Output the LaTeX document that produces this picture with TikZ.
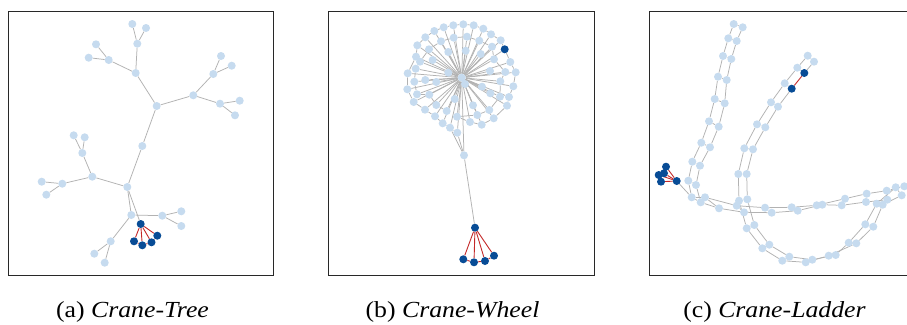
\documentclass[tikz,border=0pt]{standalone}
\usepackage{fontspec}
\usepackage{graphicx}
\setmainfont{Liberation Serif}
\usetikzlibrary{backgrounds}
\definecolor{lblue}{RGB}{198,219,239}
\definecolor{dblue}{RGB}{8,76,150}
\definecolor{egray}{RGB}{178,178,178}
\definecolor{ered}{RGB}{196,40,40}
\definecolor{framec}{RGB}{40,40,40}
\begin{document}
\begin{tikzpicture}[x=1pt,y=-1pt,
  lnode/.style={circle,fill=lblue,inner sep=0pt,minimum size=8pt},
  dnode/.style={circle,fill=dblue,inner sep=0pt,minimum size=8pt},
  gedge/.style={draw=egray,line width=0.75pt},
  redge/.style={draw=ered,line width=0.9pt},
  panel/.style={draw=framec,line width=0.9pt},
  captext/.style={anchor=base,font=\fontsize{23}{27}\selectfont,inner sep=0pt}]
\useasboundingbox (0,0) rectangle (907,324);
\clip (0,0) rectangle (907,324);

% panels
\draw[panel] (8.3,11) rectangle (273,275);
\draw[panel] (328.3,11) rectangle (594,275);
\draw[panel] (649,11) rectangle (920,275);

% ---------------- (a) Crane-Tree ----------------
\foreach \n/\x/\y in {a1/132.3/24, a2/146/28, a3/137.3/43.7, a4/96/44.3, a5/88.7/57.7, a6/108.7/60, a7/135.7/73,
  b1/221/56, b2/231.7/65.7, b3/213.3/74, b4/193.3/95.3, b5/220/103.7, b6/239.7/100.7, b7/235/115.3,
  c/156.7/106, d/142.3/146, e/127.3/187,
  f1/73.7/135.3, f2/84.7/137.3, f3/82.3/153, f4/92.3/176.7, f5/62.3/183.7, f6/41.7/181.7, f7/46.3/194.7,
  g/131.3/215, h1/162.3/215.7, h2/181.3/211.3, h3/181.3/226,
  i1/110.7/241.3, i2/94.3/253.7, i3/104.7/262.7}
  \node[lnode] (T\n) at (\x,\y) {};
\foreach \n/\x/\y in {k0/140.7/224, k1/134/241.3, k2/142.3/245.3, k3/151.5/242.3, k4/157.3/235.7}
  \node[dnode] (T\n) at (\x,\y) {};

% ---------------- (b) Crane-Wheel ----------------
\node[lnode] (Wh) at (461.7,77.7) {};
\node[lnode] (Wh2) at (465,84) {};
\foreach \x/\y/\s [count=\i] in {457.3/132.7/lnode, 450/127.7/lnode, 442.7/123.3/lnode, 435/116.3/lnode,
  425/109.7/lnode, 413.7/102/lnode, 407.3/89.3/lnode, 407.7/73.3/lnode, 416/56.7/lnode, 417.3/45.3/lnode,
  425.3/37.3/lnode, 434.3/31/lnode, 443.7/27.3/lnode, 453.3/25.3/lnode, 463.3/24.3/lnode, 473.7/25.3/lnode,
  483.3/28.7/lnode, 491/34.3/lnode, 500.7/40.3/lnode, 504.7/49.3/dnode, 510.3/62/lnode, 515.7/72.3/lnode,
  513.3/86.3/lnode, 509/97/lnode, 507/105.7/lnode, 493.7/118.3/lnode, 481.7/124.7/lnode, 470/122/lnode}
  \node[\s] (W\i) at (\x,\y) {};
\foreach \x/\y [count=\i] in {446.7/111, 436.3/105, 429.3/94.7, 417/94.3, 414.3/81.7, 415.7/68.7, 420/61.7,
  429/49.3, 441/41.3, 453.7/37.7, 467/36.7, 479.3/40.7, 492/46.7, 494/59.3, 505.3/72, 500.3/81.3,
  500/96.7, 489.3/110, 477.3/115, 457/116.7}
  \node[lnode] (V\i) at (\x,\y) {};
\foreach \x/\y [count=\i] in {425.3/80, 436.3/82, 432.7/60, 448.3/52, 465.7/50.7, 480.7/54, 490/71,
  482/86.7, 490.3/93.3, 473/105.3, 454.7/99, 448.3/72.7}
  \node[lnode] (U\i) at (\x,\y) {};
\node[lnode] (Wc) at (464,155.3) {};
\foreach \n/\x/\y in {k0/475/227.7, k1/463.3/259.3, k2/474/262.3, k3/485/261, k4/494/255.7}
  \node[dnode] (W\n) at (\x,\y) {};

% ---------------- (c) Crane-Ladder ----------------
\foreach \x/\y [count=\i] in {733.7/24, 728.3/38.3, 723/56, 718/76.7, 714.7/99, 709/121.3, 701.3/142.7,
  692.3/161.7, 688.3/180.7, 691.7/197.3}
  \node[lnode] (LA\i) at (\x,\y) {};
\foreach \x/\y [count=\i] in {742.7/27.3, 736.7/41, 731.3/59, 726.7/80, 724.7/103.3, 718.7/126.7, 710/147.3,
  700/165.7, 696/185, 700.7/202.3}
  \node[lnode] (LB\i) at (\x,\y) {};
\foreach \x/\y [count=\i] in {705/197.3, 736.7/205.7, 765/207.7, 791.7/207.3, 816.7/205.3, 845/198.7,
  866.7/193.7, 886.7/190.7}
  \node[lnode] (HU\i) at (\x,\y) {};
\foreach \x/\y [count=\i] in {719/208.3, 744/212.3, 771.7/212.7, 797.7/210.7, 822.3/204.7, 841.7/205.3,
  866/202, 887.3/199.7}
  \node[lnode] (HL\i) at (\x,\y) {};
\foreach \x/\y/\s [count=\i] in {807.7/55.7/lnode, 797.3/67.7/lnode, 784.7/83.3/lnode, 771/102.3/lnode,
  757/124.3/lnode, 744.3/148.3/lnode, 738.3/174/lnode, 739/200.7/lnode}
  \node[\s] (MA\i) at (\x,\y) {};
\foreach \x/\y/\s [count=\i] in {814/61.7/lnode, 804.3/73/dnode, 791.7/88.7/dnode, 778/106.7/lnode,
  765.3/127.3/lnode, 753/149.3/lnode, 746.7/174/lnode, 747.3/199.3/lnode}
  \node[\s] (MB\i) at (\x,\y) {};
\foreach \x/\y [count=\i] in {746.7/228.3, 762.3/248.3, 782.3/260.7, 805.7/262.3, 828.7/255.7, 856.3/243.3,
  873.3/226.7, 882.7/204.7, 901.7/195.3}
  \node[lnode] (LO\i) at (\x,\y) {};
\foreach \x/\y [count=\i] in {754.3/225, 769.3/244.7, 789.3/256.7, 812.3/259.7, 835.7/255, 848.7/242.7,
  865.3/224.3, 876.7/203.7, 895.7/187.3}
  \node[lnode] (LI\i) at (\x,\y) {};
\node[lnode] (HU9) at (904.3,186.3) {};
\foreach \n/\x/\y in {d1/666/166.7, d2/658.7/175, d3/661/181.7, d4/664/173.3, d0/676.7/181}
  \node[dnode] (L\n) at (\x,\y) {};

% ---------------- edges ----------------
\begin{scope}[on background layer]
\fill[white] (0,0) rectangle (907,324);
% tree
\foreach \u/\v in {a1/a3, a2/a3, a3/a7, a4/a6, a5/a6, a6/a7, a7/c, c/b4, b4/b3, b3/b1, b3/b2, b4/b5,
  b5/b6, b5/b7, c/d, d/e, e/f4, f4/f3, f3/f1, f3/f2, f4/f5, f5/f6, f5/f7, e/g, g/h1, h1/h2, h1/h3,
  g/i1, i1/i2, i1/i3, e/k0}
  \draw[gedge] (T\u) -- (T\v);
\foreach \u/\v in {k0/k1, k0/k2, k0/k3, k0/k4, k1/k2, k2/k3, k3/k4}
  \draw[redge] (T\u) -- (T\v);
% wheel
\foreach \i in {1,...,28} \draw[gedge] (Wh) -- (W\i);
\foreach \i in {1,...,20} \draw[gedge] (Wh) -- (V\i);
\foreach \i in {1,...,12} \draw[gedge] (Wh) -- (U\i);
\draw[gedge] (Wh) -- (Wh2);
\foreach \i in {1,...,27} {\pgfmathtruncatemacro\j{\i+1}\draw[gedge] (W\i) -- (W\j);}
\foreach \i in {1,...,19} {\pgfmathtruncatemacro\j{\i+1}\draw[gedge] (V\i) -- (V\j);}
\draw[gedge] (W28) -- (V20);
\draw[gedge] (Wh) -- (Wc);
\draw[gedge] (W1) -- (Wc);
\draw[gedge] (W2) -- (Wc);
\draw[gedge] (Wc) -- (Wk0);
\foreach \u/\v in {k0/k1, k0/k2, k0/k3, k0/k4, k1/k2, k2/k3, k3/k4}
  \draw[redge] (W\u) -- (W\v);
% ladder
\foreach \i in {1,...,9} {\pgfmathtruncatemacro\j{\i+1}
  \draw[gedge] (LA\i) -- (LA\j); \draw[gedge] (LB\i) -- (LB\j);}
\foreach \i in {1,...,10} \draw[gedge] (LA\i) -- (LB\i);
\draw[gedge] (LA10) -- (HU1);
\draw[gedge] (LB10) -- (HL1);
\foreach \i in {1,...,7} {\pgfmathtruncatemacro\j{\i+1}
  \draw[gedge] (HU\i) -- (HU\j); \draw[gedge] (HL\i) -- (HL\j);}
\draw[gedge] (HU8) -- (HU9);
\foreach \i in {1,...,8} \draw[gedge] (HU\i) -- (HL\i);
\foreach \i in {1,...,7} {\pgfmathtruncatemacro\j{\i+1}
  \draw[gedge] (MA\i) -- (MA\j);}
\draw[gedge] (MB1) -- (MB2);
\foreach \i in {3,...,7} {\pgfmathtruncatemacro\j{\i+1}
  \draw[gedge] (MB\i) -- (MB\j);}
\foreach \i in {1,...,8} \draw[gedge] (MA\i) -- (MB\i);
\draw[gedge] (MA8) -- (LO1);
\draw[gedge] (MB8) -- (LI1);
\foreach \i in {1,...,8} {\pgfmathtruncatemacro\j{\i+1}
  \draw[gedge] (LO\i) -- (LO\j); \draw[gedge] (LI\i) -- (LI\j);}
\foreach \i in {1,...,9} \draw[gedge] (LO\i) -- (LI\i);
\draw[gedge] (Ld0) -- (LA10);
\draw[redge] (MB2) -- (MB3);
\foreach \u/\v in {d0/d1, d0/d2, d0/d3, d0/d4, d1/d4, d2/d3, d2/d4}
  \draw[redge] (L\u) -- (L\v);
\end{scope}

% captions
\node[captext] (capa) at (132.5,317) {\scalebox{1.12}[1]{(a) \textit{Crane-Tree}}};
\node[captext] (capb) at (452.5,317) {\scalebox{1.12}[1]{(b) \textit{Crane-Wheel}}};
\node[captext] (capc) at (774.5,317) {\scalebox{1.12}[1]{(c) \textit{Crane-Ladder}}};
\end{tikzpicture}
\end{document}
